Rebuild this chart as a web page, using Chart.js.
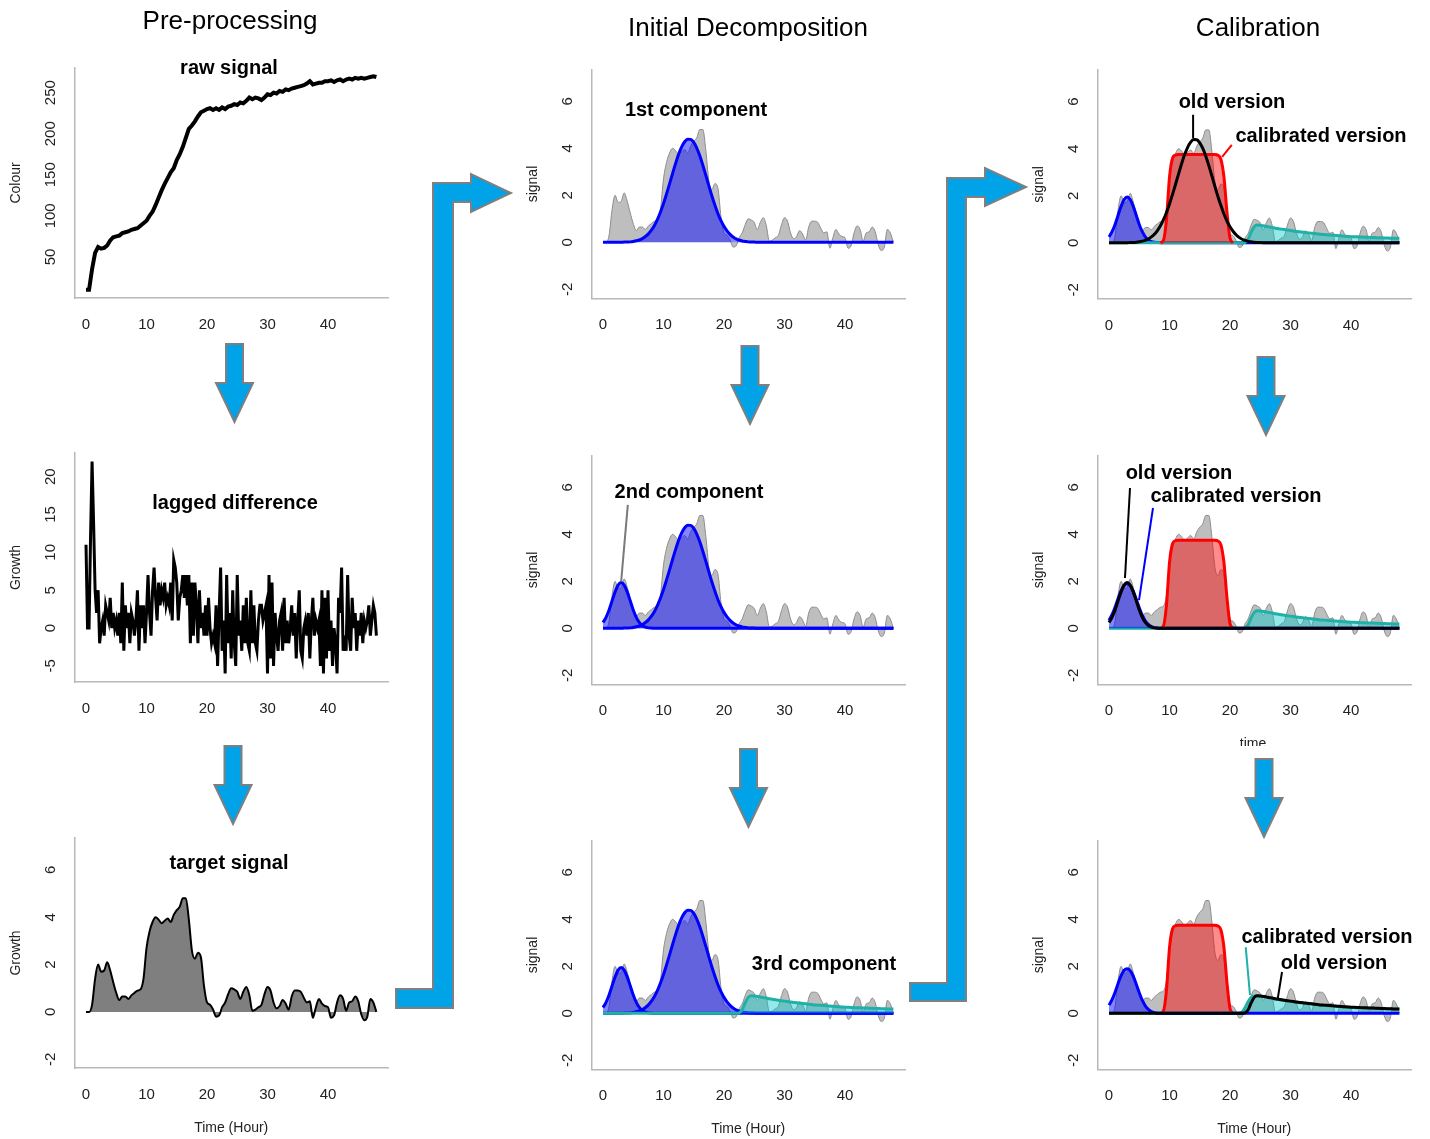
<!DOCTYPE html>
<html><head><meta charset="utf-8">
<script src="https://cdn.jsdelivr.net/npm/chart.js@4.4.1/dist/chart.umd.min.js"></script>
<style>
html,body{margin:0;padding:0;background:#fff;width:1430px;height:1139px;overflow:hidden;position:relative;font-family:"Liberation Sans",Arial,sans-serif;}
canvas{position:absolute;z-index:1;}
.t{position:absolute;transform:translate(-50%,-50%);white-space:nowrap;color:#000;z-index:3;}
.b{font-weight:bold;font-size:20px;}
.h{font-size:26px;}
#arrows{position:absolute;left:0;top:0;z-index:2;}
#timeclip{position:absolute;left:1228px;top:735px;width:50px;height:11px;overflow:hidden;z-index:3;}
#timeclip span{position:absolute;left:0;top:0;width:50px;text-align:center;font-size:14px;color:#222;line-height:16px;}
</style></head>
<body>
<div class="t h" style="left:230px;top:20px;">Pre-processing</div>
<div class="t h" style="left:748px;top:27px;">Initial Decomposition</div>
<div class="t h" style="left:1258px;top:27px;">Calibration</div>

<div class="t b" style="left:229px;top:67px;">raw signal</div>
<div class="t b" style="left:235px;top:502px;">lagged difference</div>
<div class="t b" style="left:229px;top:862px;">target signal</div>
<div class="t b" style="left:696px;top:109px;">1st component</div>
<div class="t b" style="left:689px;top:491px;">2nd component</div>
<div class="t b" style="left:824px;top:963px;">3rd component</div>
<div class="t b" style="left:1232px;top:101px;">old version</div>
<div class="t b" style="left:1321px;top:135px;">calibrated version</div>
<div class="t b" style="left:1179px;top:472px;">old version</div>
<div class="t b" style="left:1236px;top:495px;">calibrated version</div>
<div class="t b" style="left:1327px;top:936px;">calibrated version</div>
<div class="t b" style="left:1334px;top:962px;">old version</div>
<div id="timeclip"><span>time</span></div>

<svg id="arrows" width="1430" height="1139"></svg>

<script>
// ---------------- DATA ----------------
const hours = [0,0.5,1,1.5,2,2.5,3,3.5,4,4.5,5,5.5,6,6.5,7,7.5,8,8.5,9,9.5,10,10.5,11,11.5,12,12.5,13,13.5,14,14.5,15,15.5,16,16.5,17,17.5,18,18.5,19,19.5,20,20.5,21,21.5,22,22.5,23,23.5,24,24.5,25,25.5,26,26.5,27,27.5,28,28.5,29,29.5,30,30.5,31,31.5,32,32.5,33,33.5,34,34.5,35,35.5,36,36.5,37,37.5,38,38.5,39,39.5,40,40.5,41,41.5,42,42.5,43,43.5,44,44.5,45,45.5,46,46.5,47,47.5,48];

const lagHours = [0,0.25,0.5,0.75,1,1.25,1.5,1.75,2,2.25,2.5,2.75,3,3.25,3.5,3.75,4,4.25,4.5,4.75,5,5.25,5.5,5.75,6,6.25,6.5,6.75,7,7.25,7.5,7.75,8,8.25,8.5,8.75,9,9.25,9.5,9.75,
10,10.25,10.5,10.75,11,11.25,11.5,11.75,12,12.25,12.5,12.75,13,13.25,13.5,13.75,14,14.25,14.5,14.75,15,15.25,15.5,15.75,16,16.25,16.5,16.75,17,17.25,17.5,17.75,18,18.25,18.5,18.75,19,19.25,19.5,19.75,
20,20.25,20.5,20.75,21,21.25,21.5,21.75,22,22.25,22.5,22.75,23,23.25,23.5,23.75,24,24.25,24.5,24.75,25,25.25,25.5,25.75,26,26.25,26.5,26.75,27,27.25,27.5,27.75,28,28.25,28.5,28.75,29,29.25,29.5,29.75,
30,30.25,30.5,30.75,31,31.25,31.5,31.75,32,32.25,32.5,32.75,33,33.25,33.5,33.75,34,34.25,34.5,34.75,35,35.25,35.5,35.75,36,36.25,36.5,36.75,37,37.25,37.5,37.75,38,38.25,38.5,38.75,39,39.25,39.5,39.75,
40,40.25,40.5,40.75,41,41.25,41.5,41.75,42,42.25,42.5,42.75,43,43.25,43.5,43.75,44,44.25,44.5,44.75,45,45.25,45.5,45.75,46,46.25,46.5,46.75,47,47.25,47.5,47.75,48];

const rawSignal = [10,10,35,55,62,60,61,64,70,74,75,76,79,80,81,83,84,85,88,91,94,100,105,113,122,131,139,146,153,158,168,175,184,195,206,210,215,221,226,228,230,231,229,231,229,232,230,233,234,236,235,238,237,240,244,242,244,243,241,244,248,247,250,249,252,251,254,253,255,256,257,258,259,261,264,260,261,262,262,264,264,265,263,265,266,264,266,267,266,268,267,268,267,268,269,270,269];

const lagDiff = [11,0,0,12, 22,14,5,2, 5,-2,0,1, -1,3,2,1, 4,0,2,0, 1,-1,2,-2, 6,-3,3,0, 2,-2,2,1, -1,1,5,-3, 3,0,3,-2,
2,7,2,-1, 5,8,4,1, 6,3,5,4, 6,3,4,3, 6,1,9,8, 6,1,4,5, 7,4,7,3, 7,-2,6,-1, 6,3,-2,5, 0,2,-1,3,
-1,4,0,-2, -1,-2,3,-5, 2,8,-3,1, -6,7,-2,2, -4,5,-2,-5, 7,-1,1,-3, 3,-2,4,-2, -3,5,-2,3, -2,-3,1,3, 3,1,2,3,
-6,7,-4,6, -5,2,-1,-3, 1,2,-3,4, -2,1,-2,0, 3,-1,2,-4, 1,5,-3,-4, 0,1,-1,2, -4,1,4,-1, 1,0,1,-5, 5,-6,4,-4,
5,-3,1,-5, 0,-2,-6,4, 2,8,-3,-1, -3,7,-1,-3, 4,0,2,-3, 1,-1,2,-2, 1,0,1,3, -1,1,3,2, -1];

const targetSignal = [0,0,0.3,1.4,2.0,1.7,1.75,2.1,1.75,1.25,
0.8,0.5,0.65,0.65,0.55,0.7,0.8,0.9,0.95,1.4,
2.7,3.4,3.8,4.0,3.9,3.75,3.85,3.95,3.8,4.1,
4.3,4.45,4.8,4.8,3.9,2.6,2.25,2.5,2.3,1.1,
0.4,0.3,0.1,-0.2,-0.15,0.2,0.4,0.75,1.0,0.95,
0.85,0.55,0.85,1.05,0.7,0.05,0.1,0.2,0.3,0.75,
1.05,0.9,0.4,0.15,0.25,0.5,0.35,0.1,0.65,0.9,
0.9,0.85,0.6,0.4,0.45,-0.25,0.2,0.55,0.35,0.25,
0.2,-0.25,-0.15,0.4,0.7,0.55,0.05,0.4,0.45,0.65,
0.45,-0.1,-0.35,-0.2,0.55,0.4,0.0];

const comp1 = [0,0,0,0,0,0,0,
0.01,0.01,0.02,0.04,0.07,0.1,0.16,0.25,0.36,0.52,
0.72,0.98,1.29,1.65,2.06,2.49,2.93,3.36,3.75,4.06,
4.28,4.39,4.38,4.25,4.01,3.68,3.28,2.85,2.4,1.97,
1.58,1.22,0.92,0.68,0.49,0.34,0.23,0.15,0.1,0.06,
0.04,0.02,0.01,0.01,
0,0,0,0,0,0,0,0,0,0,0,0,0,0,0,0,0,0,0,0,0,0,0,0,0,0,0,0,0,0,0,0,0,0,0,0,0,0,0,0,0,0,0,0,0,0];

const comp2 = [0.25,0.47,0.78,1.17,1.55,1.84,1.95,1.84,1.55,1.17,0.78,0.47,0.25,0.12,0.05,0.02,0.01,
0,0,0,0,0,0,0,0,0,0,0,0,0,0,0,0,0,0,0,0,0,0,0,0,0,0,0,0,0,0,0,0,0,0,0,0,0,0,0,0,0,0,0,0,
0,0,0,0,0,0,0,0,0,0,0,0,0,0,0,0,0,0,0,0,0,0,0,0,0,0,0,0,0,0,0,0,0,0,0,0,0,0,0,0];

const comp2Cal = [0.35,0.58,0.9,1.27,1.6,1.83,1.9,1.82,1.58,1.24,0.88,0.56,0.32,0.17,0.08,0.03,0.01,
0,0,0,0,0,0,0,0,0,0,0,0,0,0,0,0,0,0,0,0,0,0,0,0,0,0,0,0,0,0,0,0,0,0,0,0,0,0,0,0,0,0,0,0,
0,0,0,0,0,0,0,0,0,0,0,0,0,0,0,0,0,0,0,0,0,0,0,0,0,0,0,0,0,0,0,0,0,0,0,0,0,0,0,0];

const comp3 = [0,0,0,0,0,0,0,0,0,0,0,0,0,0,0,0,0,0,0,0,0,0,0,0,0,0,0,0,0,0,0,0,0,0,0,0,0,0,0,0,0,0,0,0,0,
0.02,0.15,0.45,0.68,0.75,0.74,0.72,0.7,0.67,0.65,
0.62,0.6,0.58,0.56,0.54,0.52,0.5,0.48,0.465,0.45,
0.435,0.42,0.405,0.39,0.375,0.36,0.35,0.34,0.33,0.32,
0.31,0.3,0.29,0.28,0.27,0.26,0.255,0.25,0.245,0.24,
0.235,0.23,0.225,0.22,0.215,0.21,0.205,0.2,0.195,0.19,
0.19,0.19];

const comp3Cal = [0,0,0,0,0,0,0,0,0,0,0,0,0,0,0,0,0,0,0,0,0,0,0,0,0,0,0,0,0,0,0,0,0,0,0,0,0,0,0,0,0,0,0,
0.01,0.06,0.25,0.5,0.68,0.74,0.74,0.73,
0.71,0.69,0.66,0.64,0.61,0.59,0.57,0.55,0.53,0.51,
0.49,0.47,0.455,0.44,0.425,0.41,0.395,0.38,0.365,0.35,
0.34,0.33,0.32,0.31,0.3,0.29,0.28,0.27,0.26,0.25,
0.245,0.24,0.235,0.23,0.225,0.22,0.215,0.21,0.205,0.2,
0.195,0.19,0.185,0.185,0.18,0.18];

const redHours = [8.5,9,9.5,10,10.5,11,11.5,12,12.5,13,13.5,14,14.5,15,15.5,16,16.5,17,17.5,18,18.5,19,19.5,20,20.5];
const redCal = [0,0.1,1.0,2.8,3.6,3.73,3.75,3.75,3.75,3.75,3.75,3.75,3.75,3.75,3.75,3.75,3.75,3.75,3.75,3.72,3.55,2.8,1.3,0.2,0];

const xTicks = [0,10,20,30,40];
const rawTicks = [50,100,150,200,250];
const lagTicks = [-5,0,5,10,15,20];
const sigTicks = [-2,0,2,4,6];

// annotation leader lines (data units)
const leader2nd  = [{x:3.0,y:2.0},{x:4.1,y:5.25}];
const leaderOld1 = [{x:13.9,y:4.45},{x:13.9,y:5.45}];
const leaderCal1 = [{x:18.7,y:3.65},{x:20.3,y:4.16}];
const leaderOld2 = [{x:2.64,y:2.14},{x:3.47,y:5.97}];
const leaderCal2 = [{x:4.96,y:1.2},{x:7.27,y:5.12}];
const leaderCal3 = [{x:23.3,y:0.78},{x:22.6,y:2.82}];
const leaderOld3 = [{x:27.9,y:0.65},{x:28.6,y:1.76}];

// ---------------- STYLES ----------------
const SMOOTH = {cubicInterpolationMode:'monotone'};
const gray = () => Object.assign({data: targetSignal, borderColor:'#8c8c8c', borderWidth:1, backgroundColor:'#bebebe', fill:'origin'}, SMOOTH);
const blueFill = a => Object.assign({data:a, borderColor:'#0000ff', borderWidth:3, backgroundColor:'rgba(0,0,255,0.48)', fill:'origin'}, SMOOTH);
const tealFill = a => Object.assign({data:a, borderColor:'#1fb0a8', borderWidth:3, backgroundColor:'rgba(0,200,200,0.42)', fill:'origin'}, SMOOTH);
const redFill = () => Object.assign({data: redHours.map((h,i)=>({x:h,y:redCal[i]})), borderColor:'#ff0000', borderWidth:3, backgroundColor:'rgba(255,0,0,0.45)', fill:'origin'}, SMOOTH);
const blackLine = a => Object.assign({data:a, borderColor:'#000', borderWidth:3, fill:false}, SMOOTH);
const leader = (p,c) => ({data:p, borderColor:c, borderWidth:2, fill:false, tension:0});

const PW = 313.6, XMIN = -1.92, XMAX = 49.92;
const SIG = {yMin:-2.38, yMax:7.34, H:228.5, yTicks:sigTicks, yTitle:'signal'};
const FONT = '"Liberation Sans", Arial, sans-serif';

const panels = [
  {L:74.4, T:68, H:230, yMin:0, yMax:280, yTicks:rawTicks, yTitle:'Colour', labels:hours,
   ds:[{data:rawSignal, borderColor:'#000', borderWidth:4, fill:false, tension:0}]},
  {L:74.4, T:453, H:229, yMin:-7.12, yMax:23.12, yTicks:lagTicks, yTitle:'Growth', labels:lagHours,
   ds:[{data:lagDiff, borderColor:'#000', borderWidth:3, fill:false, tension:0}]},
  {L:74.4, T:838, H:230, yMin:-2.37, yMax:7.35, yTicks:sigTicks, yTitle:'Growth', xTitle:'Time (Hour)', labels:hours,
   ds:[Object.assign({data:targetSignal, borderColor:'#000', borderWidth:2, backgroundColor:'#7f7f7f', fill:'origin'}, SMOOTH)]},
  Object.assign({L:591.4, T:69.8, labels:hours, ds:[gray(), blueFill(comp1)]}, SIG),
  Object.assign({L:591.4, T:455.8, labels:hours, ds:[gray(), blueFill(comp2), blueFill(comp1), leader(leader2nd,'#7a7a7a')]}, SIG),
  Object.assign({L:591.4, T:840.8, labels:hours, xTitle:'Time (Hour)', ds:[gray(), blueFill(comp2), blueFill(comp1), tealFill(comp3)]}, SIG),
  Object.assign({L:1097.4, T:70.2, labels:hours, ds:[gray(), blueFill(comp2), tealFill(comp3), redFill(), blackLine(comp1), leader(leaderOld1,'#000'), leader(leaderCal1,'#ff0000')]}, SIG),
  Object.assign({L:1097.4, T:455.8, labels:hours, ds:[gray(), tealFill(comp3), blueFill(comp2Cal), redFill(), blackLine(comp2), leader(leaderOld2,'#000'), leader(leaderCal2,'#0000ff')]}, SIG),
  Object.assign({L:1097.4, T:840.8, labels:hours, xTitle:'Time (Hour)', ds:[gray(), redFill(), tealFill(comp3Cal), blueFill(comp2Cal), blackLine(comp3), leader(leaderCal3,'#1fb0a8'), leader(leaderOld3,'#000')]}, SIG)
];

const yTickPlugin = {
  id:'yTickLabels',
  afterDraw(chart, args, opts){
    const s = chart.scales.y, ctx = chart.ctx;
    ctx.save();
    ctx.font = '15px ' + FONT;
    ctx.fillStyle = '#222'; ctx.textAlign = 'center'; ctx.textBaseline = 'middle';
    for (const v of opts.values) {
      ctx.save();
      ctx.translate(chart.chartArea.left - 24, s.getPixelForValue(v));
      ctx.rotate(-Math.PI/2);
      ctx.fillText(String(v), 0, 0);
      ctx.restore();
    }
    ctx.restore();
  }
};

panels.forEach(p => {
  const CL = Math.floor(p.L - 75), CT = Math.floor(p.T - 14);
  const yw = p.L - CL, padT = p.T - CT;
  const CR = Math.ceil(p.L + PW + 12), CB = Math.min(1139, Math.ceil(p.T + p.H + 72));
  const W = CR - CL, Hc = CB - CT;
  const padR = W - yw - PW, xh = Hc - padT - p.H;
  const cv = document.createElement('canvas');
  cv.width = W; cv.height = Hc;
  cv.style.left = CL + 'px'; cv.style.top = CT + 'px';
  cv.style.width = W + 'px'; cv.style.height = Hc + 'px';
  document.body.appendChild(cv);
  const datasets = p.ds.slice().reverse().map(d => Object.assign({pointRadius:0}, d));
  new Chart(cv, {
    type:'line',
    data:{labels:p.labels, datasets},
    plugins:[yTickPlugin],
    options:{
      responsive:false, animation:false, devicePixelRatio:1, events:[],
      layout:{padding:{left:0, right:padR, top:padT, bottom:0}},
      plugins:{legend:{display:false}, tooltip:{enabled:false}, yTickLabels:{values:p.yTicks}},
      elements:{point:{radius:0}},
      scales:{
        x:{type:'linear', min:XMIN, max:XMAX,
           afterBuildTicks:s=>{s.ticks = xTicks.map(v=>({value:v}));},
           afterFit:s=>{s.height = xh;},
           grid:{display:false, drawTicks:false},
           border:{display:true, color:'#b8b8b8', width:1.5},
           ticks:{autoSkip:false, maxRotation:0, minRotation:0, padding:18, color:'#222', font:{family:FONT, size:15}},
           title:{display:!!p.xTitle, text:p.xTitle||'', color:'#222', font:{family:FONT, size:14}, padding:{top:0, bottom:Math.max(0, xh-60-8.4)}}},
        y:{type:'linear', min:p.yMin, max:p.yMax,
           afterBuildTicks:s=>{s.ticks = p.yTicks.map(v=>({value:v}));},
           afterFit:s=>{s.width = yw;},
           grid:{display:false, drawTicks:false},
           border:{display:true, color:'#b8b8b8', width:1.5},
           ticks:{display:false},
           title:{display:true, text:p.yTitle, color:'#222', font:{family:FONT, size:14}, padding:{top:Math.max(0, yw-58-8.4), bottom:0}}}
      }
    }
  });
});

// ---------------- ARROWS (decoration) ----------------
const svg = document.getElementById('arrows');
const NS = 'http://www.w3.org/2000/svg';
function poly(pts){
  const e = document.createElementNS(NS,'polygon');
  e.setAttribute('points', pts.map(p=>p.join(',')).join(' '));
  e.setAttribute('fill','#00a2e8'); e.setAttribute('stroke','#7f7f7f'); e.setAttribute('stroke-width','2');
  e.setAttribute('stroke-linejoin','miter');
  svg.appendChild(e);
}
function down(cx, top){
  poly([[cx-8.5,top],[cx+8.5,top],[cx+8.5,top+39],[cx+18.5,top+39],[cx,top+78],[cx-18.5,top+39],[cx-8.5,top+39]]);
}
down(234.5,344); down(233,746);
down(750,346); down(748.5,749);
down(1266,357); down(1264,759);
poly([[396,989],[433,989],[433,183],[471,183],[471,174],[511,193],[471,212],[471,202],[453,202],[453,1008],[396,1008]]);
poly([[910,983],[947,983],[947,178],[985,178],[985,168],[1026,187],[985,206],[985,197],[966,197],[966,1001],[910,1001]]);
</script>
</body></html>
